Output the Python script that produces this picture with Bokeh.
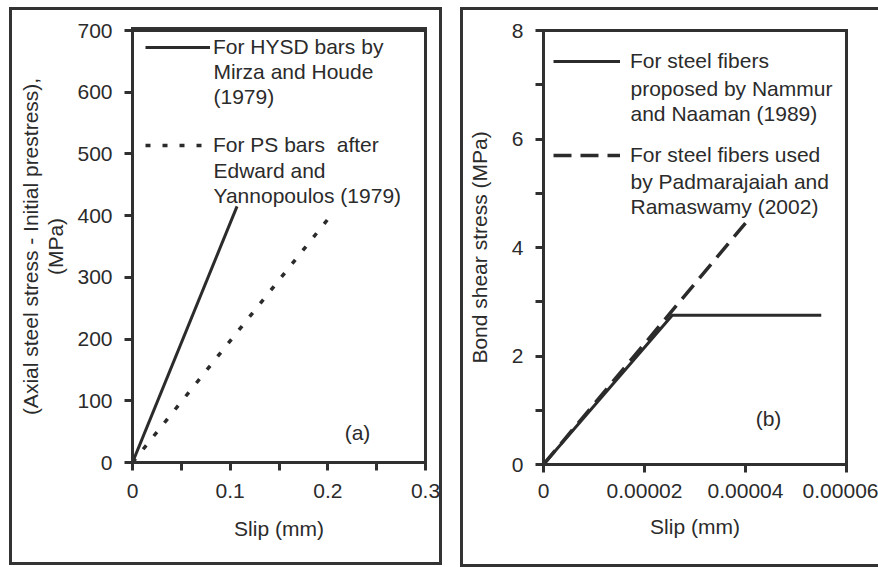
from bokeh.plotting import figure
from bokeh.models import Range1d, FixedTicker, Legend, LegendItem, Label
from bokeh.layouts import row
from bokeh.embed import file_html
from bokeh.resources import INLINE

# ---- data (a) ----
hysd_slip = [0.0, 0.107]
hysd_stress = [0.0, 415.0]
ps_slip = [0.0, 0.203]
ps_stress = [0.0, 400.0]

a_xticks = [0, 0.1, 0.2, 0.3]
a_xtick_labels = ["0", "0.1", "0.2", "0.3"]
a_xminor = [0.05, 0.15, 0.25]
a_yticks = [0, 100, 200, 300, 400, 500, 600, 700]
a_ytick_labels = ["0", "100", "200", "300", "400", "500", "600", "700"]

# ---- data (b) ----
nammur_slip = [0.0, 0.0000255, 0.000055]
nammur_tau = [0.0, 2.75, 2.75]
padma_slip = [0.0, 0.00004]
padma_tau = [0.0, 4.45]

b_xticks = [0, 0.00002, 0.00004, 0.00006]
b_xtick_labels = ["0", "0.00002", "0.00004", "0.00006"]
b_yticks = [0, 2, 4, 6, 8]
b_ytick_labels = ["0", "2", "4", "6", "8"]
b_yminor = [1, 3, 5, 7]

FONT = "Liberation Sans"
FS = "21px"
INK = "#2b2b2b"
LINE = "#303030"


def style(p):
    p.outline_line_color = LINE
    p.outline_line_width = 3
    p.background_fill_color = None
    p.border_fill_color = None
    p.grid.visible = False
    xa, ya = p.below[0], p.left[0]
    for ax in (xa, ya):
        ax.axis_line_color = LINE
        ax.axis_line_width = 3
        ax.major_tick_line_color = LINE
        ax.major_tick_line_width = 3
        ax.major_tick_in = 0
        ax.major_tick_out = 8
        ax.minor_tick_line_color = LINE
        ax.minor_tick_line_width = 3
        ax.minor_tick_in = 0
        ax.minor_tick_out = 8
        ax.major_label_text_font = FONT
        ax.major_label_text_font_size = FS
        ax.major_label_text_color = INK
        ax.axis_label_text_font = FONT
        ax.axis_label_text_font_size = FS
        ax.axis_label_text_font_style = "normal"
        ax.axis_label_text_color = INK
        ax.axis_label_text_line_height = 1.1
    return xa, ya


def box_css(left, top, width, height):
    # top and right sides of the plot box, drawn behind the transparent canvas
    g = "linear-gradient(#333333,#333333)"
    return (f"{g} {left}px {top}px / {width}px 3px no-repeat, "
            f"{g} {left + width - 3}px {top}px / 3px {height}px no-repeat, white")


# ---------------- panel (a) ----------------
p1 = figure(width=433, height=558, output_backend="svg", toolbar_location=None,
            x_range=Range1d(0, 0.3), y_range=Range1d(0, 700),
            min_border_left=123, min_border_right=17, min_border_top=21, min_border_bottom=103)
xa1, ya1 = style(p1)
p1.styles = {"box-shadow": "inset 0 0 0 3px #333333",
             "background": box_css(122, 20, 296, 436)}
r1 = p1.line(hysd_slip, hysd_stress, line_color=INK, line_width=3)
r2 = p1.line(ps_slip, ps_stress, line_color=INK, line_width=3.5, line_dash="5 12")
xa1.ticker = FixedTicker(ticks=a_xticks, minor_ticks=a_xminor)
xa1.major_label_overrides = dict(zip(a_xticks, a_xtick_labels))
ya1.ticker = FixedTicker(ticks=a_yticks, minor_ticks=[])
ya1.major_label_overrides = dict(zip(a_yticks, a_ytick_labels))
xa1.axis_label = "Slip (mm)"
ya1.axis_label = "(Axial steel stress - Initial prestress),\n(MPa)"
xa1.major_label_standoff = 13
ya1.major_label_standoff = 12
xa1.axis_label_standoff = 16
ya1.axis_label_standoff = 7

leg1 = Legend(items=[LegendItem(label="For HYSD bars by", renderers=[r1]),
                     LegendItem(label="For PS bars  after", renderers=[r2])],
              location=(13, 305), padding=0, margin=0, border_line_color=None,
              background_fill_alpha=0, glyph_width=65, glyph_height=24, label_height=24,
              label_standoff=3, spacing=74, label_text_font=FONT,
              label_text_font_size=FS, label_text_color=INK)
p1.add_layout(leg1)
for txt, y in [("Mirza and Houde\n(1979)", 652), ("Edward and\nYannopoulos (1979)", 492)]:
    p1.add_layout(Label(x=0.0829, y=y, text=txt, text_baseline="top", text_font=FONT,
                        text_font_size=FS, text_line_height=1.1, text_color=INK))
p1.add_layout(Label(x=0.2304, y=48, text="(a)", text_baseline="middle", text_align="center",
                    text_font=FONT, text_font_size=FS, text_color=INK))

# ---------------- panel (b) ----------------
p2 = figure(width=418, height=560, output_backend="svg", toolbar_location=None,
            x_range=Range1d(0, 0.00006), y_range=Range1d(0, 8),
            min_border_left=83, min_border_right=32, min_border_top=23, min_border_bottom=103)
xa2, ya2 = style(p2)
p2.styles = {"box-shadow": "inset 3px 3px 0 0 #333333, inset 0 -3px 0 0 #333333",
             "background": box_css(82, 22, 306, 436)}
s1 = p2.line(nammur_slip, nammur_tau, line_color=INK, line_width=3)
s2 = p2.line(padma_slip, padma_tau, line_color=INK, line_width=3.5, line_dash="18 9")
xa2.ticker = FixedTicker(ticks=b_xticks, minor_ticks=[])
xa2.major_label_overrides = dict(zip(b_xticks, b_xtick_labels))
ya2.ticker = FixedTicker(ticks=b_yticks, minor_ticks=b_yminor)
ya2.major_label_overrides = dict(zip(b_yticks, b_ytick_labels))
xa2.axis_label = "Slip (mm)"
ya2.axis_label = "Bond shear stress (MPa)"
xa2.major_label_standoff = 11
ya2.major_label_standoff = 12
xa2.axis_label_standoff = 14
ya2.axis_label_standoff = 18

leg2 = Legend(items=[LegendItem(label="For steel fibers", renderers=[s1]),
                     LegendItem(label="For steel fibers used", renderers=[s2])],
              location=(10, 297), padding=0, margin=0, border_line_color=None,
              background_fill_alpha=0, glyph_width=67, glyph_height=24, label_height=24,
              label_standoff=10, spacing=70, label_text_font=FONT,
              label_text_font_size=FS, label_text_color=INK)
p2.add_layout(leg2)
for txt, y in [("proposed by Nammur\nand Naaman  (1989)", 7.15),
               ("by Padmarajaiah and\nRamaswamy (2002)", 5.43)]:
    p2.add_layout(Label(x=0.00001723, y=y, text=txt, text_baseline="top", text_font=FONT,
                        text_font_size=FS, text_line_height=1.1, text_color=INK))
p2.add_layout(Label(x=0.00004455, y=0.85, text="(b)", text_baseline="middle", text_align="center",
                    text_font=FONT, text_font_size=FS, text_color=INK))

layout = row(p1, p2, spacing=18)
layout.margin = (7, 0, 0, 9)
open("out.html", "w").write(file_html(layout, INLINE))
